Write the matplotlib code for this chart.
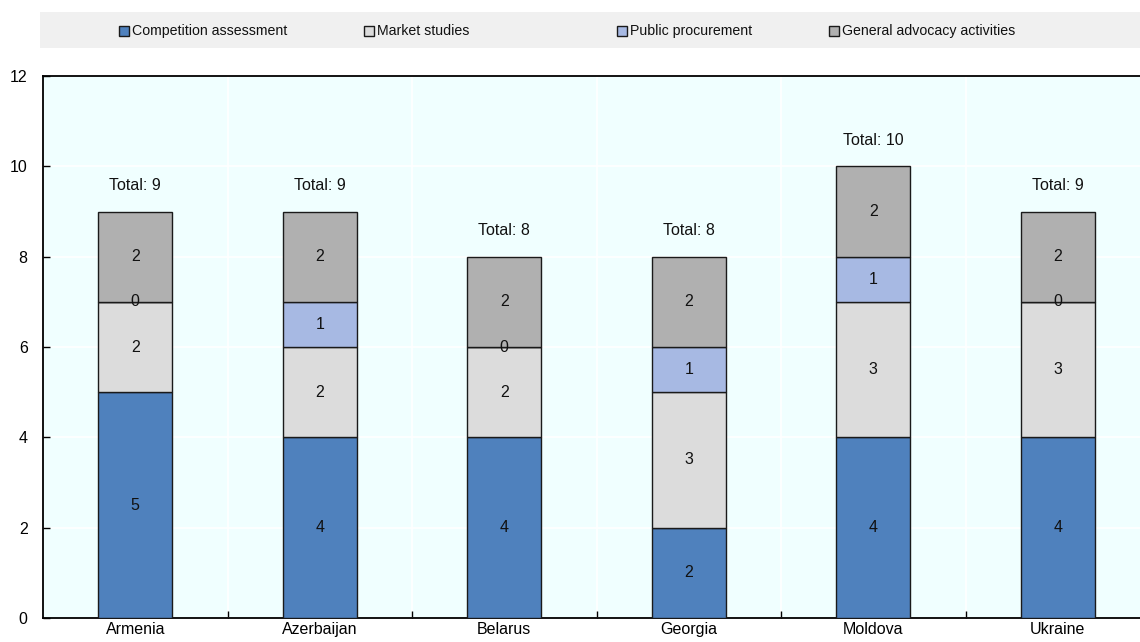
import matplotlib
matplotlib.use("Agg")
import matplotlib.pyplot as plt
import matplotlib.patches as patches
import numpy as np

plt.rcParams['font.family'] = ['Liberation Sans', 'DejaVu Sans']

countries = ["Armenia", "Azerbaijan", "Belarus", "Georgia", "Moldova", "Ukraine"]
competition = [5, 4, 4, 2, 4, 4]
market = [2, 2, 2, 3, 3, 3]
procurement = [0, 1, 0, 1, 1, 0]
advocacy = [2, 2, 2, 2, 2, 2]

series_names = ["Competition assessment", "Market studies",
                "Public procurement", "General advocacy activities"]
series_values = [competition, market, procurement, advocacy]
colors = ["#4F81BD", "#DCDCDC", "#A7B9E3", "#B0B0B0"]

fig = plt.figure(figsize=(11.4, 6.42), dpi=100)
ax = fig.add_axes([43 / 1140, 1 - 618 / 642, 1107 / 1140, 542 / 642])
ax.set_facecolor("#F0FFFF")

x = np.arange(len(countries))
bottom = np.zeros(len(countries))
for vals, col in zip(series_values, colors):
    vals = np.array(vals, dtype=float)
    ax.bar(x, vals, 0.4, bottom=bottom, color=col, edgecolor="#1a1a1a",
           linewidth=1.0, zorder=3)
    for xi, b, v in zip(x, bottom, vals):
        ax.text(xi, b + v / 2, "%d" % v, ha="center", va="center",
                fontsize=11.5, color="#111111", zorder=4)
    bottom += vals

for xi, t in zip(x, bottom):
    ax.text(xi, t + 0.58, "Total: %d" % t, ha="center", va="center",
            fontsize=11.5, color="#111111")

ax.set_xlim(-0.5, len(countries) - 0.5)
ax.set_ylim(0, 12)
ax.set_yticks(range(0, 13, 2))
ax.set_xticks(x)
ax.set_xticklabels(countries, fontsize=11.5)
ax.set_xticks(np.arange(0.5, len(countries) - 0.5, 1), minor=True)
ax.tick_params(axis="x", which="major", length=0, pad=3)
ax.tick_params(axis="x", which="minor", direction="in", length=5, width=1, color="black")
ax.tick_params(axis="y", direction="in", length=5, width=1, pad=11, labelsize=11.5)

ax.grid(axis="y", color="white", linewidth=1.2, zorder=0)
for b in np.arange(0.5, len(countries) - 0.5, 1):
    ax.axvline(b, color="white", linewidth=1.2, zorder=0)
ax.set_axisbelow(True)

for side in ["left", "bottom", "top"]:
    ax.spines[side].set_linewidth(1.3)
    ax.spines[side].set_color("black")
ax.spines["right"].set_visible(False)

# legend band on top
fig.patches.append(patches.Rectangle((40 / 1140, 1 - 48 / 642), 1100 / 1140, 36 / 642,
                                     transform=fig.transFigure, facecolor="#F0F0F0",
                                     edgecolor="none"))
leg_x = [119, 364, 617, 829]
for px, name, col in zip(leg_x, series_names, colors):
    fig.patches.append(patches.Rectangle((px / 1140, 1 - 35.5 / 642), 10 / 1140, 10 / 642,
                                         transform=fig.transFigure, facecolor=col,
                                         edgecolor="#1a1a1a", linewidth=1.0))
    fig.text((px + 13) / 1140, 1 - 31 / 642, name, ha="left", va="center",
             fontsize=10.2, color="#111111")

fig.savefig("out.png", dpi=100)
